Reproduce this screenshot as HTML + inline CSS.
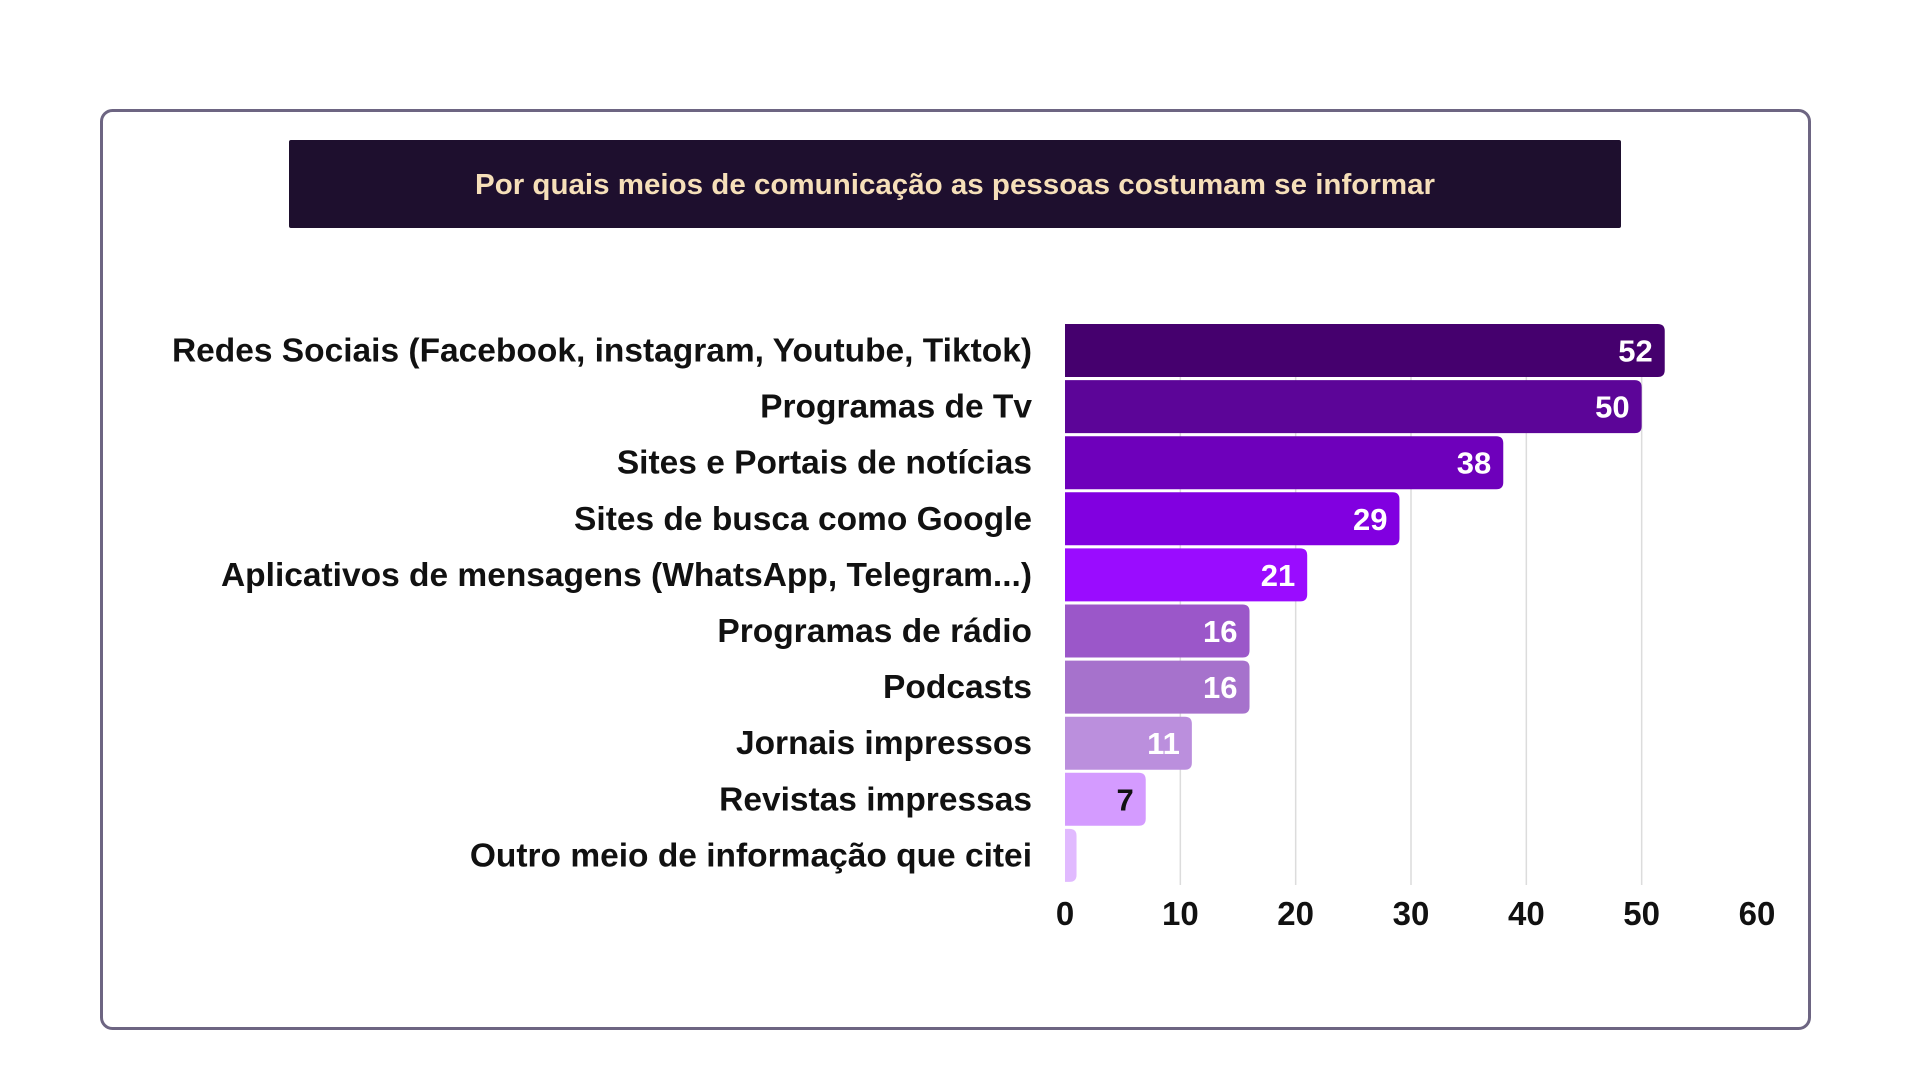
<!DOCTYPE html>
<html><head><meta charset="utf-8">
<style>
html,body{margin:0;padding:0;background:#fff;width:1920px;height:1080px;overflow:hidden;font-family:"Liberation Sans",sans-serif;}
</style></head>
<body>
<svg id="chart" width="1920" height="1080" xmlns="http://www.w3.org/2000/svg">
  <rect x="101.5" y="110.5" width="1708" height="918" rx="11" fill="#fff" stroke="#6d6582" stroke-width="3"/>
  <rect x="289" y="140" width="1332" height="88" rx="2" fill="#1e0f2e"/>
  <text x="955" y="194" text-anchor="middle" font-size="29" font-weight="bold" fill="#f6dfb9" textLength="960" lengthAdjust="spacingAndGlyphs">Por quais meios de comunicação as pessoas costumam se informar</text>
  <g id="grid"></g><g id="bars"></g><g id="labels"></g><g id="ticks"></g>
</svg>
<script>
const categories = ["Redes Sociais (Facebook, instagram, Youtube, Tiktok)","Programas de Tv","Sites e Portais de notícias","Sites de busca como Google","Aplicativos de mensagens (WhatsApp, Telegram...)","Programas de rádio","Podcasts","Jornais impressos","Revistas impressas","Outro meio de informação que citei"];
const values = [52,50,38,29,21,16,16,11,7,1];
const valueLabels = ["52","50","38","29","21","16","16","11","7",""];
const tickValues = [0,10,20,30,40,50,60];
const barColors = ["#45006e","#5c0598","#6e00bb","#8100e0","#9a0cff","#9b57c9","#a672cc","#bb8fdd","#d49bff","#e1baff"];
const valueColors = ["#fff","#fff","#fff","#fff","#fff","#fff","#fff","#fff","#111","#fff"];

const NS="http://www.w3.org/2000/svg";
const x0=1065, xMax=60, plotW=1757-1065, plotTop=324, band=56.1, barH=53;
const xs=v=>x0+v/xMax*plotW;
const yb=i=>plotTop+i*band;
function mk(tag,attrs,parent){const e=document.createElementNS(NS,tag);for(const k in attrs)e.setAttribute(k,attrs[k]);parent.appendChild(e);return e;}
const gridG=document.getElementById('grid'),barsG=document.getElementById('bars'),labelsG=document.getElementById('labels'),ticksG=document.getElementById('ticks');
const plotBottom=yb(categories.length);
tickValues.forEach(t=>{
  if(t>0 && t<60){const l=mk('line',{x1:xs(t),x2:xs(t),y1:plotTop,y2:plotBottom,stroke:'#dcdcdc','stroke-width':1.5},gridG);
  
  }
  const tx=mk('text',{x:xs(t),y:925,'text-anchor':'middle','font-size':33,'font-weight':'bold',fill:'#111'},ticksG);
  tx.textContent=t;
  
  
});
values.forEach((v,i)=>{
  const y=yb(i), w=xs(v)-x0, r=7;
  const p=mk('path',{d:`M${x0},${y}H${x0+w-r}Q${x0+w},${y} ${x0+w},${y+r}V${y+barH-r}Q${x0+w},${y+barH} ${x0+w-r},${y+barH}H${x0}Z`,fill:barColors[i]},barsG);
  
  
  if(valueLabels[i]){const t=mk('text',{x:x0+w-12,y:y+barH/2+11,'text-anchor':'end','font-size':31,'font-weight':'bold',fill:valueColors[i]},barsG);
  t.textContent=valueLabels[i];
  
  }
  const c=mk('text',{x:1032,y:y+barH/2+11,'text-anchor':'end','font-size':33.5,'font-weight':'bold',fill:'#111'},labelsG);
  c.textContent=categories[i];
  
  
});
</script>
</body></html>
